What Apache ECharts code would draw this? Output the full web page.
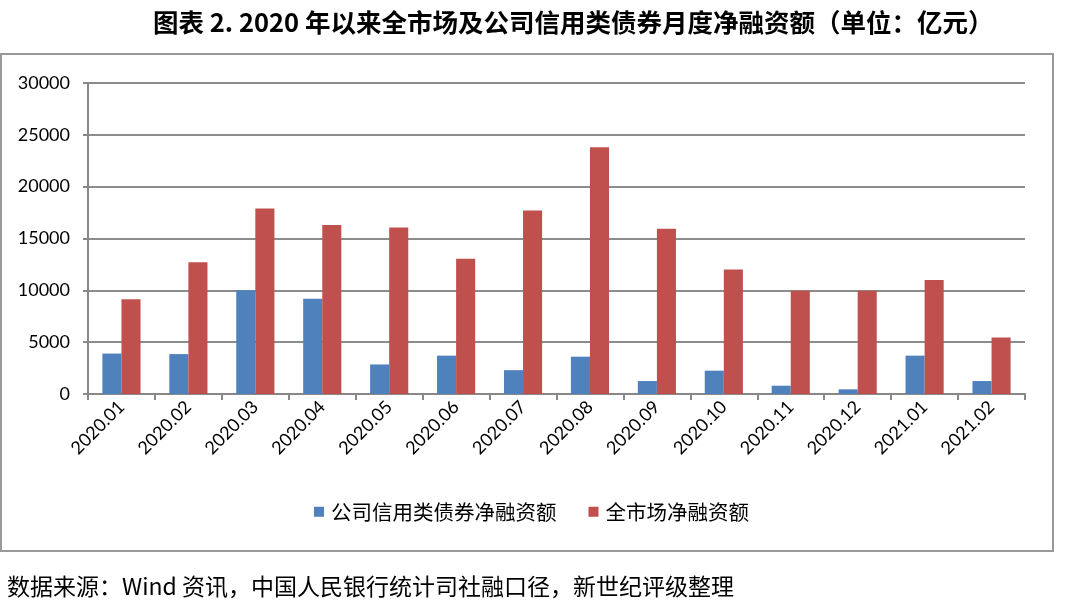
<!DOCTYPE html>
<html>
<head>
<meta charset="utf-8">
<script src="https://cdn.jsdelivr.net/npm/echarts@6/dist/echarts.min.js"></script>
<style>
html,body{margin:0;padding:0;background:#fff;}
#c{width:1080px;height:609px;}
</style>
</head>
<body>
<div id="c"></div>
<script>
const categories = ['2020.01','2020.02','2020.03','2020.04','2020.05','2020.06','2020.07','2020.08','2020.09','2020.10','2020.11','2020.12','2021.01','2021.02'];
const corporateCredit = [3900, 3850, 10000, 9200, 2850, 3700, 2300, 3600, 1250, 2250, 800, 450, 3700, 1250];
const wholeMarket = [9150, 12700, 17900, 16300, 16050, 13050, 17700, 23800, 15950, 12000, 9950, 9950, 11000, 5450];
const seriesNames = ['公司信用类债券净融资额', '全市场净融资额'];
const yTicks = [0, 5000, 10000, 15000, 20000, 25000, 30000];

const chart = echarts.init(document.getElementById('c'), null, {renderer: 'canvas'});
const latin = 'Lato, "Noto Sans CJK SC", sans-serif';
const cjk = '"Noto Sans CJK SC", sans-serif';
chart.setOption({
  animation: false,
  backgroundColor: '#fff',
  title: [{
    text: '图表 2. 2020 年以来全市场及公司信用类债券月度净融资额（单位：亿元）',
    left: 148,
    top: 5,
    textStyle: {fontFamily: cjk, fontSize: 25.5, fontWeight: 'bold', color: '#000'}
  }, {
    text: '数据来源：Wind 资讯，中国人民银行统计司社融口径，新世纪评级整理',
    left: 2,
    top: 570,
    textStyle: {fontFamily: cjk, fontSize: 23, fontWeight: 'normal', color: '#000'}
  }],
  graphic: [{
    type: 'rect',
    shape: {x: 1, y: 54, width: 1052, height: 497},
    style: {fill: 'none', stroke: '#999', lineWidth: 2},
    z: -1
  }],
  legend: {
    data: seriesNames,
    bottom: 82,
    left: 309,
    itemWidth: 10,
    itemHeight: 10,
    itemGap: 32,
    icon: 'rect',
    textStyle: {fontFamily: cjk, fontSize: 20.5, color: '#000', padding: [0, 0, 0, 2]}
  },
  grid: {left: 88, right: 55, top: 83, bottom: 215, containLabel: false},
  xAxis: {
    type: 'category',
    data: categories,
    axisLine: {lineStyle: {color: '#888', width: 2}},
    axisTick: {show: true, length: 6, lineStyle: {color: '#888', width: 2}},
    axisLabel: {rotate: 45, fontFamily: latin, fontSize: 18, color: '#000', margin: 10}
  },
  yAxis: {
    type: 'value',
    min: yTicks[0],
    max: yTicks[yTicks.length - 1],
    interval: 5000,
    axisLine: {show: true, lineStyle: {color: '#888', width: 2}},
    axisTick: {show: true, length: 5, lineStyle: {color: '#888', width: 2}},
    axisLabel: {fontFamily: latin, fontSize: 18, color: '#000', margin: 18, formatter: function (v) { return String(v); }},
    splitLine: {lineStyle: {color: '#8c8c8c', width: 2}}
  },
  series: [{
    name: seriesNames[0],
    type: 'bar',
    data: corporateCredit,
    barGap: '0%',
    barCategoryGap: '43%',
    itemStyle: {color: '#4f81bd'}
  }, {
    name: seriesNames[1],
    type: 'bar',
    data: wholeMarket,
    itemStyle: {color: '#c0504d'}
  }]
});
</script>
</body>
</html>
